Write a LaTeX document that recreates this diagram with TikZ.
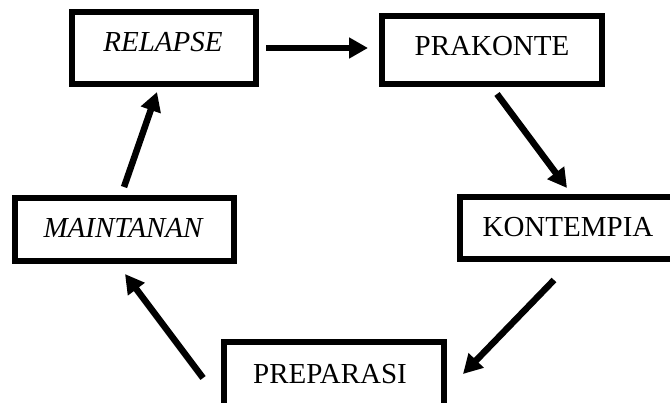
\documentclass[tikz,border=0pt]{standalone}
\usepackage{fontspec}
\setmainfont{Liberation Serif}
\usetikzlibrary{arrows.meta}
\begin{document}
\begin{tikzpicture}[x=1pt,y=-1pt,
  box/.style={draw=black,line width=6pt,rectangle,inner sep=0pt},
  lab/.style={anchor=base,inner sep=0pt,font=\fontsize{29}{34}\selectfont},
  arr/.style={line width=6.5pt,-{Triangle[length=19pt,width=20pt]}}]
\clip (0,0) rectangle (670,403);
% boxes (drawn by line centre)
\node[box,minimum width=184pt,minimum height=72pt] (r) at (164,48) {};
\node[box,minimum width=220pt,minimum height=68pt] (p) at (492,50) {};
\node[box,minimum width=219pt,minimum height=63pt] (m) at (124.5,229.5) {};
\node[box,minimum width=230pt,minimum height=62pt] (k) at (575,228) {};
\node[box,minimum width=220pt,minimum height=78pt] (pr) at (334,381) {};
% labels
\node[lab] (rt) at (163,52) {\itshape RELAPSE};
\node[lab] (pt) at (492,56) {PRAKONTE};
\node[lab] (mt) at (123,238) {\itshape MAINTANAN};
\node[lab] (kt) at (568,237) {KONTEMPIA};
\node[lab] (prt) at (330,384) {PREPARASI};
% arrow end points
\coordinate (a1s) at (266,48);  \coordinate (a1e) at (368,48);
\coordinate (a2s) at (497,94);  \coordinate (a2e) at (567,188);
\coordinate (a3s) at (554,280); \coordinate (a3e) at (463,374);
\coordinate (a4s) at (203,378); \coordinate (a4e) at (125,274);
\coordinate (a5s) at (124,187); \coordinate (a5e) at (157,92);
\draw[arr] (a1s) -- (a1e);
\draw[arr] (a2s) -- (a2e);
\draw[arr] (a3s) -- (a3e);
\draw[arr] (a4s) -- (a4e);
\draw[arr] (a5s) -- (a5e);
\end{tikzpicture}
\end{document}
